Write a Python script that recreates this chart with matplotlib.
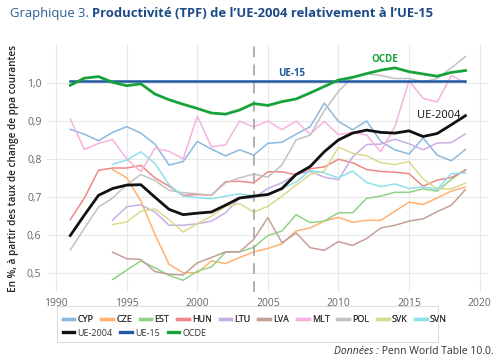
import matplotlib
matplotlib.use("Agg")
import matplotlib.pyplot as plt
from matplotlib.patches import Rectangle

plt.rcParams['font.family'] = ['Open Sans', 'DejaVu Sans']

years = list(range(1991, 2020))
years_late = list(range(1994, 2020))

cyp = [0.878, 0.865, 0.848, 0.870, 0.885, 0.868, 0.839, 0.784, 0.793, 0.846,
       0.826, 0.808, 0.824, 0.810, 0.841, 0.844, 0.865, 0.885, 0.947, 0.899,
       0.877, 0.900, 0.846, 0.824, 0.813, 0.855, 0.810, 0.795, 0.825]
mlt = [0.905, 0.825, 0.841, 0.851, 0.800, 0.766, 0.828, 0.820, 0.800, 0.913,
       0.832, 0.837, 0.900, 0.884, 0.900, 0.877, 0.900, 0.865, 0.899, 0.864,
       0.870, 0.863, 0.819, 0.885, 1.006, 0.960, 0.950, 1.020, 1.000]
pol = [0.560, 0.617, 0.673, 0.697, 0.732, 0.759, 0.743, 0.717, 0.711, 0.708,
       0.704, 0.737, 0.750, 0.760, 0.752, 0.784, 0.850, 0.863, 0.927, 0.978,
       1.015, 1.025, 1.020, 1.012, 1.012, 1.003, 1.012, 1.040, 1.070]
hun = [0.640, 0.697, 0.770, 0.776, 0.776, 0.783, 0.750, 0.728, 0.704, 0.706,
       0.704, 0.740, 0.741, 0.737, 0.766, 0.766, 0.758, 0.774, 0.779, 0.799,
       0.790, 0.772, 0.767, 0.765, 0.761, 0.728, 0.744, 0.751, 0.770]
ue2004 = [0.598, 0.652, 0.704, 0.722, 0.731, 0.732, 0.699, 0.667, 0.653, 0.657,
          0.660, 0.678, 0.697, 0.702, 0.706, 0.722, 0.759, 0.780, 0.819, 0.850,
          0.868, 0.876, 0.870, 0.868, 0.874, 0.859, 0.867, 0.890, 0.914]
ue15 = [1.006] * 29
ocde = [0.994, 1.013, 1.017, 1.002, 0.993, 0.998, 0.971, 0.956, 0.944, 0.933,
        0.921, 0.918, 0.929, 0.946, 0.941, 0.951, 0.958, 0.974, 0.991, 1.008,
        1.015, 1.025, 1.034, 1.040, 1.030, 1.024, 1.018, 1.028, 1.033]

# series starting in 1994
svn = [0.786, 0.797, 0.819, 0.788, 0.732, 0.702, 0.698,
       0.695, 0.702, 0.708, 0.702, 0.708, 0.722, 0.739, 0.770, 0.763, 0.750,
       0.768, 0.738, 0.727, 0.734, 0.722, 0.726, 0.720, 0.761, 0.763]
ltu = [0.639, 0.674, 0.679, 0.660, 0.625, 0.625, 0.629,
       0.636, 0.658, 0.697, 0.697, 0.722, 0.737, 0.759, 0.767, 0.752, 0.745,
       0.805, 0.838, 0.839, 0.852, 0.840, 0.824, 0.842, 0.843, 0.866]
svk = [0.627, 0.634, 0.662, 0.668, 0.640, 0.607, 0.629,
       0.649, 0.675, 0.682, 0.660, 0.675, 0.702, 0.731, 0.759, 0.768, 0.831,
       0.815, 0.808, 0.790, 0.785, 0.793, 0.747, 0.721, 0.721, 0.736]
cze = [0.772, 0.750, 0.689, 0.601, 0.522, 0.500, 0.500,
       0.531, 0.524, 0.540, 0.555, 0.564, 0.576, 0.610, 0.618, 0.636, 0.646,
       0.633, 0.638, 0.638, 0.662, 0.686, 0.680, 0.697, 0.715, 0.726]
est = [0.482, 0.507, 0.531, 0.513, 0.493, 0.480, 0.504,
       0.515, 0.554, 0.555, 0.567, 0.598, 0.610, 0.653, 0.632, 0.636, 0.658,
       0.658, 0.696, 0.702, 0.712, 0.712, 0.721, 0.715, 0.746, 0.772]
lva = [0.554, 0.537, 0.535, 0.503, 0.496, 0.494, 0.526,
       0.540, 0.555, 0.555, 0.588, 0.645, 0.579, 0.605, 0.566, 0.559, 0.582,
       0.572, 0.590, 0.618, 0.625, 0.636, 0.642, 0.661, 0.678, 0.719]

countries = [
    ("CYP", years, cyp, "#8bb8de"),
    ("CZE", years_late, cze, "#ffb273"),
    ("EST", years_late, est, "#8fd386"),
    ("HUN", years, hun, "#ee8785"),
    ("LTU", years_late, ltu, "#c8aee2"),
    ("LVA", years_late, lva, "#c4a097"),
    ("MLT", years, mlt, "#f6b2de"),
    ("POL", years, pol, "#c2c2c2"),
    ("SVK", years_late, svk, "#dada8c"),
    ("SVN", years_late, svn, "#8ee0ec"),
]

fig = plt.figure(figsize=(5, 3.61), dpi=100)
ax = fig.add_axes([0.094, 0.191, 0.882, 0.684])

handles = []
for name, xs, ys, col in countries:
    h, = ax.plot(xs, ys, color=col, lw=1.1, label=name, zorder=2)
    handles.append(h)

h1, = ax.plot(years, ue2004, color="#111111", lw=2.0, label="UE-2004", zorder=4)
h2, = ax.plot(years, ue15, color="#1f59a3", lw=1.8, label="UE-15", zorder=5)
h3, = ax.plot(years, ocde, color="#17a23a", lw=2.0, label="OCDE", zorder=6)

ax.axvline(2004, color="#aaaaaa", lw=1.3, ls=(0, (6, 4)), zorder=3)

ax.set_xlim(1989.35, 2020.6)
ax.set_ylim(0.449, 1.10)
ax.set_xticks([1990, 1995, 2000, 2005, 2010, 2015, 2020])
ax.set_yticks([0.5, 0.6, 0.7, 0.8, 0.9, 1.0])
ax.set_yticklabels(["0,5", "0,6", "0,7", "0,8", "0,9", "1,0"])
ax.grid(True, color="#e8e8e8", lw=0.8, zorder=0)
ax.set_axisbelow(True)
for s in ax.spines.values():
    s.set_visible(False)
ax.tick_params(length=0, labelsize=7.5, labelcolor="#666666", pad=4)

ax.set_ylabel("En %, à partir des taux de change de ppa courantes",
              fontsize=7.2, fontweight="semibold", color="#222222", labelpad=6)

ax.text(2006.7, 1.026, "UE-15", color="#1f59a3", fontsize=7, fontweight="bold",
        ha="center", va="center")
ax.text(2013.3, 1.063, "OCDE", color="#17a23a", fontsize=7, fontweight="bold",
        ha="center", va="center")
ax.text(2017.1, 0.914, "UE-2004", color="#111111", fontsize=8,
        ha="center", va="center")

fig.canvas.draw()
r = fig.canvas.get_renderer()

t1 = fig.text(0.02, 0.962, "Graphique 3. ", fontsize=9.4, color="#2b5d93",
              ha="left", va="center")
w1 = t1.get_window_extent(r).width / 500
fig.text(0.02 + w1, 0.962, "Productivité (TPF) de l’UE-2004 relativement à l’UE-15",
         fontsize=9.4, color="#1c4a86", fontweight="bold", ha="left", va="center")

leg_kw = dict(loc="upper left", frameon=False, fontsize=6.5, handlelength=1.3,
              handletextpad=0.35, columnspacing=0.85, borderaxespad=0,
              labelcolor="#333333")
leg1 = fig.legend(handles=handles, bbox_to_anchor=(0.118, 0.138), ncol=10, **leg_kw)
fig.add_artist(leg1)
fig.legend(handles=[h1, h2, h3], bbox_to_anchor=(0.118, 0.1), ncol=3, **leg_kw)
for lg in fig.legends:
    for ln in lg.get_lines():
        ln.set_linewidth(2.4)

fig.patches.append(Rectangle((57 / 500, 1 - 342 / 361), 381 / 500, 36 / 361,
                             transform=fig.transFigure, fill=False,
                             edgecolor="#dddddd", lw=0.8))

t2 = fig.text(0.988, 0.027, " Penn World Table 10.0.", fontsize=7.5, color="#333333",
              ha="right", va="center")
w2 = t2.get_window_extent(r).width / 500
fig.text(0.988 - w2, 0.027, "Données :", fontsize=7.5, color="#333333",
         style="italic", ha="right", va="center")

fig.savefig("out.png", dpi=100)
